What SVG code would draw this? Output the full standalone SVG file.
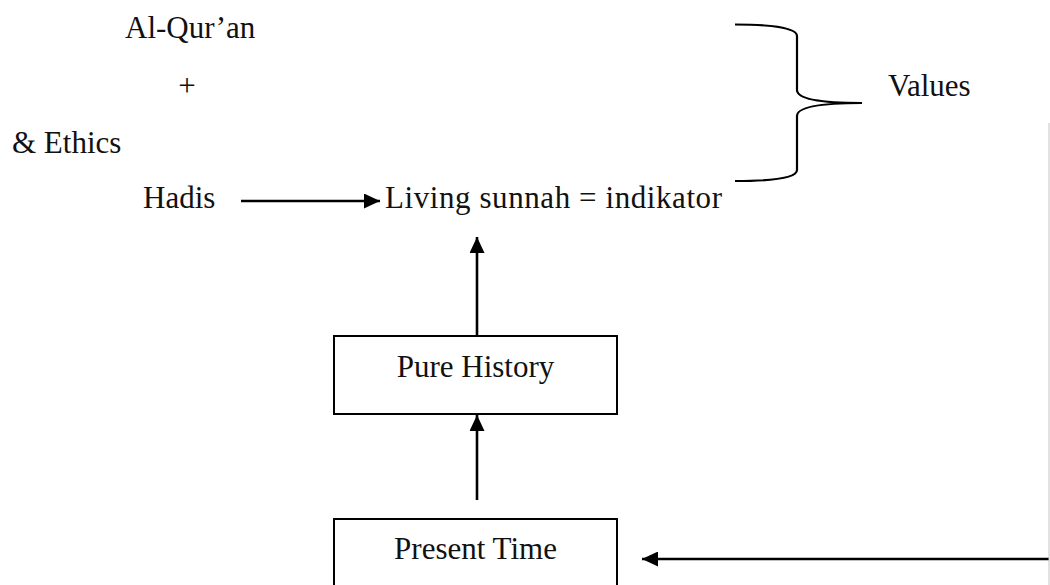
<svg xmlns="http://www.w3.org/2000/svg" width="1050" height="585" viewBox="0 0 1050 585">
<style>
.t{font-family:"Liberation Serif","Times New Roman",serif;font-size:31px;fill:#111}
.ln{stroke:#000;stroke-width:2.6;fill:none}
.br{stroke:#000;stroke-width:2.2;fill:none}
.box{stroke:#000;stroke-width:2;fill:#fff}
</style>
<defs>
<marker id="ah" markerUnits="userSpaceOnUse" markerWidth="17" markerHeight="15" refX="16" refY="7.5" orient="auto">
<path d="M0,0 L16,7.5 L0,15 z" fill="#000"/>
</marker>
</defs>
<rect width="1050" height="585" fill="#fff"/>
<g id="texts">
<text id="alquran" class="t" x="125" y="38">Al-Qur’an</text>
<text id="plus" class="t" x="187" y="96" text-anchor="middle">+</text>
<text id="ethics" class="t" x="12" y="153">&amp; Ethics</text>
<text id="hadis" class="t" x="143" y="208">Hadis</text>
<text id="living" class="t" x="385" y="208" textLength="337">Living sunnah = indikator</text>
<text id="values" class="t" x="888" y="96">Values</text>
</g>
<g id="brace">
<path class="br" d="M735,24.5 C772,24.5 797,28 797,36 L797,90 C797,99 822,103 862,103 C822,103 797,107 797,116 L797,170 C797,178 772,181 735,181"/>
</g>
<g id="pure-history">
<rect class="box" x="334" y="336" width="283" height="78"/>
<text class="t" x="475.5" y="377" text-anchor="middle">Pure History</text>
</g>
<g id="present-time">
<rect class="box" x="334" y="519" width="283" height="90"/>
<text class="t" x="475.5" y="559" text-anchor="middle">Present Time</text>
</g>
<g id="connectors">
<line class="ln" x1="241" y1="201" x2="380" y2="201" marker-end="url(#ah)"/>
<line class="ln" x1="477" y1="336" x2="477" y2="237" marker-end="url(#ah)"/>
<line class="ln" x1="477" y1="500" x2="477" y2="415" marker-end="url(#ah)"/>
<line class="ln" x1="1049" y1="559" x2="642" y2="559" marker-end="url(#ah)"/>
<line x1="1049" y1="123" x2="1049" y2="585" stroke="#c4c4c4" stroke-width="1"/>
</g>
</svg>
